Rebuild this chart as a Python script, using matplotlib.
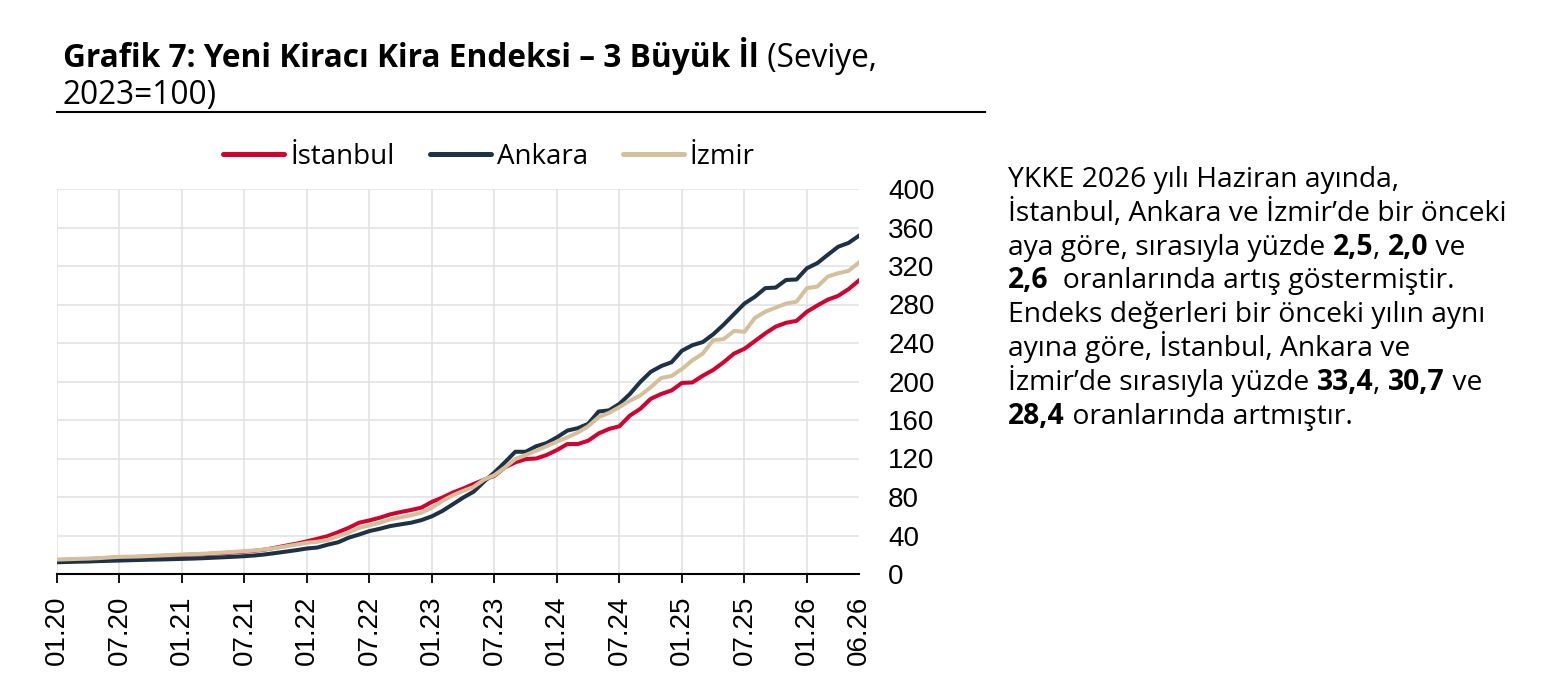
import matplotlib as mpl
import matplotlib.pyplot as plt
from matplotlib.lines import Line2D
from matplotlib.transforms import IdentityTransform

# monthly index values, 01.2020 - 06.2026 (2023=100)
istanbul = [14.5, 14.8, 15.2, 15.5, 16, 16.6, 17.2, 17.5, 17.8, 18.2, 18.7, 19.2,
            19.7, 20.1, 20.5, 21.1, 21.7, 22.4, 23.1, 24.1, 25.4, 27.4, 29.5, 31.5,
            34, 36.6, 39.4, 43.5, 48, 53.3, 55.7, 58.5, 62, 64.4, 66.5, 69,
            75, 79.4, 84.6, 88.8, 93.5, 98, 102, 110.7, 116, 119.4, 120, 123.6,
            128.8, 135, 135, 138.5, 146, 150.7, 153.5, 164.6, 171.6, 182, 187, 190.7,
            198.5, 199, 206, 212, 220, 229, 234, 242, 250, 257, 261, 263,
            272.5, 279, 285, 289, 296, 305]
ankara = [12.2, 12.5, 12.8, 13, 13.4, 13.7, 14, 14.3, 14.6, 14.9, 15.1, 15.4,
          15.7, 16, 16.4, 16.9, 17.4, 17.9, 18.5, 19.3, 20.4, 21.8, 23.3, 24.8,
          26.5, 27.5, 30.5, 33, 37.7, 41, 44.6, 47, 49.8, 51.6, 53.3, 56,
          60, 65.5, 72.4, 79.4, 85.5, 96, 105.5, 116, 127, 127, 132.7, 136,
          142, 149, 151.5, 156, 168.8, 170, 176.8, 187, 199.5, 210, 216, 220,
          232, 237.7, 241, 249, 259, 270, 281, 288, 297, 297.6, 305.5, 306,
          317.7, 323, 331.6, 340, 344, 351.5]
izmir = [15, 15.3, 15.7, 16, 16.5, 17.2, 17.8, 18, 18.3, 18.8, 19.3, 19.8,
         20.2, 20.6, 21, 21.7, 22.3, 23, 23.7, 24.5, 25.6, 27, 28.8, 30.5,
         32.5, 33.5, 35.5, 39.4, 43, 48, 50.5, 53.3, 56.8, 59, 61, 63.8,
         69, 76, 81.8, 86.3, 90.5, 98, 102.7, 110.7, 119.4, 123.6, 128, 132.7,
         137.5, 142, 147, 153.5, 163, 167.4, 173.4, 180, 185.5, 194, 203.6, 205.7,
         213, 222, 229, 243, 244, 252.5, 251.6, 266, 272.5, 276.7, 281, 283,
         297, 298.6, 309, 312.5, 315, 323.7]

tick_pos = [0, 6, 12, 18, 24, 30, 36, 42, 48, 54, 60, 66, 72]
tick_labels = ['01.20', '07.20', '01.21', '07.21', '01.22', '07.22', '01.23',
               '07.23', '01.24', '07.24', '01.25', '07.25', '01.26']
last_label = '06.26'
y_ticks = list(range(0, 401, 40))

RED = '#D6002F'
NAVY = '#1E3247'
TAN = '#D6C09B'
TXT = 'Open Sans'
NUM = 'Liberation Sans'

W, H = 1561, 697
fig = plt.figure(figsize=(W / 100, H / 100), dpi=100)
ax = fig.add_axes([57 / W, 1 - 574 / H, (859 - 57) / W, (574 - 189) / H])

x = list(range(len(istanbul)))
ax.plot(x, istanbul, color=RED, lw=2.9, label='İstanbul')
ax.plot(x, ankara, color=NAVY, lw=2.9, label='Ankara')
ax.plot(x, izmir, color=TAN, lw=2.9, label='İzmir')

ax.set_xlim(0, len(istanbul) - 1)
ax.set_ylim(0, 400)
ax.set_yticks(y_ticks)
ax.yaxis.tick_right()
ax.tick_params(axis='y', length=0, pad=21)
for lab in ax.get_yticklabels():
    lab.set_fontfamily(NUM)
    lab.set_fontsize(20)

ax.set_xticks(tick_pos)
ax.set_xticklabels(tick_labels, rotation=90, fontfamily=NUM, fontsize=20)
ax.set_xticks([len(istanbul) - 1], [last_label], minor=True,
              rotation=90, fontfamily=NUM, fontsize=20)
ax.tick_params(axis='x', which='major', length=6.5, width=1.3, pad=9, color='black')
ax.tick_params(axis='x', which='minor', length=0, pad=15.5)

ax.grid(True, which='major', color='#E0E0E0', lw=1.1)
ax.set_axisbelow(True)
for s in ['top', 'left', 'right']:
    ax.spines[s].set_visible(False)
ax.spines['bottom'].set_linewidth(1.5)
ax.spines['bottom'].set_zorder(5)

leg = ax.legend(loc='center', bbox_to_anchor=(489 / W, 1 - 157 / H),
                bbox_transform=fig.transFigure, ncol=3, frameon=False,
                prop={'family': TXT, 'size': 20}, handlelength=2.2,
                handletextpad=0.22, columnspacing=1.25, borderaxespad=0)
for h in leg.get_lines():
    h.set_linewidth(3.6)
    h.set_solid_capstyle('round')

renderer = fig.canvas.get_renderer()


def width_of(s, weight, size):
    t1 = fig.text(0, 0, s + 'x', fontsize=size, fontweight=weight, family=TXT)
    t2 = fig.text(0, 0, 'x', fontsize=size, fontweight=weight, family=TXT)
    w = t1.get_window_extent(renderer).width - t2.get_window_extent(renderer).width
    t1.remove()
    t2.remove()
    return w


def runs(x0, base, parts, size=20.3):
    xp = x0
    for s, bold in parts:
        weight = 'bold' if bold else 'normal'
        fig.text(xp, H - base, s, transform=IdentityTransform(), fontsize=size,
                 fontweight=weight, family=TXT, va='baseline', ha='left')
        xp += width_of(s, weight, size)


runs(63, 67, [('Grafik 7: Yeni Kiracı Kira Endeksi – 3 Büyük İl', True),
              (' (Seviye,', False)], size=22.8)
runs(63, 104, [('2023=100)', False)], size=22.8)
fig.add_artist(Line2D([57 / W, 985 / W], [1 - 111.5 / H, 1 - 111.5 / H],
                      transform=fig.transFigure, color='black', lw=1.5))

para = [
    [('YKKE 2026 yılı Haziran ayında,', False)],
    [('İstanbul, Ankara ve İzmir’de bir önceki', False)],
    [('aya göre, sırasıyla yüzde ', False), ('2,5', True), (', ', False),
     ('2,0', True), (' ve', False)],
    [('2,6', True), ('  oranlarında artış göstermiştir.', False)],
    [('Endeks değerleri bir önceki yılın aynı', False)],
    [('ayına göre, İstanbul, Ankara ve', False)],
    [('İzmir’de sırasıyla yüzde ', False), ('33,4', True), (', ', False),
     ('30,7', True), (' ve', False)],
    [('28,4', True), (' oranlarında artmıştır.', False)],
]
for k, line in enumerate(para):
    runs(1008, 187 + 33.8 * k, line)

fig.savefig('out.png', dpi=100)
